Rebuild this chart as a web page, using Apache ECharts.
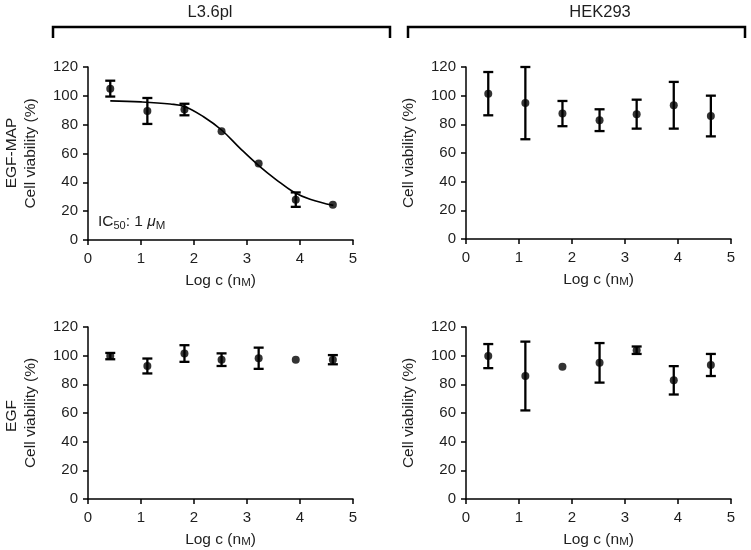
<!DOCTYPE html>
<html><head><meta charset="utf-8">
<script src="https://cdn.jsdelivr.net/npm/echarts@6/dist/echarts.min.js"></script>
<style>html,body{margin:0;padding:0;background:#fff}#c{width:751px;height:550px}</style>
</head><body><div id="c"></div>
<script>
// ---- data ----
var xVals = [0.42, 1.12, 1.82, 2.52, 3.22, 3.92, 4.62];
var xTicks = [0, 1, 2, 3, 4, 5];
var yTicks = [0, 20, 40, 60, 80, 100, 120];
// L3.6pl, EGF-MAP
var tlMean = [105, 89.5, 90.5, 75.5, 53, 28, 24.5];
var tlErr  = [5.5, 9, 4, 0, 0, 5, 0];
// fitted curve
var curveX = [0.42, 1.0, 1.55, 1.83, 2.18, 2.52, 2.87, 3.21, 3.56, 3.87, 4.19, 4.63];
var curveY = [96.5, 95.8, 94.3, 92.5, 85.5, 76.3, 63.6, 52, 41.6, 33.5, 28.3, 24];
// HEK293, EGF-MAP
var trMean = [101.4, 94.8, 87.5, 82.9, 87.1, 93.3, 85.8];
var trErr  = [15.1, 25.2, 8.8, 7.6, 10.1, 16.3, 14.2];
// L3.6pl, EGF
var blMean = [99.7, 92.8, 101.5, 97.2, 98.2, 97.2, 97.2];
var blErr  = [2.2, 5.2, 5.8, 4.4, 7.4, 0, 3.2];
// HEK293, EGF
var brMean = [99.7, 85.8, 92.3, 95, 103.8, 82.8, 93.5];
var brErr  = [8.4, 24, 0, 13.8, 2.6, 9.9, 7.7];

var FONT = '"Liberation Sans", Arial, Helvetica, sans-serif';
var TXT = '#1e1e1e';
var FS = 15;

var grids = [
  {left: 88, top: 67, width: 265, height: 173},
  {left: 466, top: 67, width: 265, height: 172},
  {left: 88, top: 327, width: 265, height: 172},
  {left: 466, top: 327, width: 265, height: 172}
];

function xAxis(i) {
  return {
    gridIndex: i, type: 'value', min: xTicks[0], max: xTicks[xTicks.length - 1], interval: 1,
    axisLine: {lineStyle: {color: '#000', width: 1.5}},
    axisTick: {show: true, length: 5, lineStyle: {color: '#000', width: 1.5}},
    axisLabel: {color: TXT, fontSize: FS, fontFamily: FONT, margin: 11},
    splitLine: {show: false},
    name: 'Log c (n{sc|M})', nameLocation: 'middle', nameGap: 32,
    nameTextStyle: {color: TXT, fontSize: 15.5, fontFamily: FONT, lineHeight: 17,
      rich: {sc: {fontSize: 11.5, fontFamily: FONT, color: TXT, verticalAlign: 'bottom', lineHeight: 16}}}
  };
}
function yAxis(i) {
  return {
    gridIndex: i, type: 'value', min: yTicks[0], max: yTicks[yTicks.length - 1], interval: 20,
    axisLine: {show: true, lineStyle: {color: '#000', width: 1.5}},
    axisTick: {show: true, length: 5, lineStyle: {color: '#000', width: 1.5}},
    axisLabel: {color: TXT, fontSize: FS, fontFamily: FONT, margin: 10},
    splitLine: {show: false},
    name: 'Cell viability (%)', nameLocation: 'middle', nameGap: 49,
    nameTextStyle: {color: TXT, fontSize: 15.5, fontFamily: FONT}
  };
}

function pairs(xs, ys) { return xs.map(function (x, k) { return [x, ys[k]]; }); }
function errData(means, errs) {
  var out = [];
  for (var k = 0; k < xVals.length; k++) {
    if (errs[k] > 0) out.push([xVals[k], means[k] - errs[k], means[k] + errs[k]]);
  }
  return out;
}
function errSeries(i, means, errs) {
  return {
    type: 'custom', xAxisIndex: i, yAxisIndex: i, data: errData(means, errs), z: 3,
    renderItem: function (params, api) {
      var lo = api.coord([api.value(0), api.value(1)]);
      var hi = api.coord([api.value(0), api.value(2)]);
      var w = 5;
      var st = {stroke: '#000', lineWidth: 2.3};
      return {type: 'group', children: [
        {type: 'line', shape: {x1: lo[0], y1: lo[1], x2: hi[0], y2: hi[1]}, style: st},
        {type: 'line', shape: {x1: lo[0] - w, y1: lo[1], x2: lo[0] + w, y2: lo[1]}, style: st},
        {type: 'line', shape: {x1: hi[0] - w, y1: hi[1], x2: hi[0] + w, y2: hi[1]}, style: st}
      ]};
    }
  };
}
function dotSeries(i, means) {
  return {type: 'scatter', xAxisIndex: i, yAxisIndex: i, data: pairs(xVals, means),
    symbol: 'circle', symbolSize: 8, itemStyle: {color: '#000'}, z: 4, silent: true};
}

var series = [
  {type: 'line', xAxisIndex: 0, yAxisIndex: 0, data: pairs(curveX, curveY), smooth: 0.4,
   showSymbol: false, lineStyle: {color: '#000', width: 1.6}, z: 2, silent: true},
  errSeries(0, tlMean, tlErr), dotSeries(0, tlMean),
  errSeries(1, trMean, trErr), dotSeries(1, trMean),
  errSeries(2, blMean, blErr), dotSeries(2, blMean),
  errSeries(3, brMean, brErr), dotSeries(3, brMean)
];

function bracket(x1, x2) {
  return {type: 'polyline', shape: {points: [[x1, 38], [x1, 27], [x2, 27], [x2, 38]]},
    style: {stroke: '#000', lineWidth: 2.5, fill: null}};
}
function label(text, x, y, rot, fs) {
  return {type: 'text', x: x, y: y, rotation: rot || 0,
    style: {text: text, fill: TXT, font: (fs || 15.5) + 'px ' + FONT, align: 'center', verticalAlign: 'middle'}};
}

var chart = echarts.init(document.getElementById('c'), null, {renderer: 'canvas'});
chart.setOption({
  animation: false,
  backgroundColor: '#fff',
  grid: grids,
  xAxis: [0, 1, 2, 3].map(xAxis),
  yAxis: [0, 1, 2, 3].map(yAxis),
  series: series,
  graphic: [
    bracket(53, 390), bracket(408, 745),
    label('L3.6pl', 210, 12, 0, 16.5), label('HEK293', 600, 12, 0, 16.5),
    label('EGF-MAP', 12, 153, Math.PI / 2, 15.5),
    label('EGF', 12, 416, Math.PI / 2, 15.5),
    {type: 'text', x: 98, y: 222,
     style: {text: '{a|IC}{sub|50}{a|: 1 }{i|\u03bc}{sc|M}', fill: TXT, verticalAlign: 'middle',
       rich: {
         a: {fontSize: 15.5, fontFamily: FONT, fill: TXT, lineHeight: 19},
         sub: {fontSize: 11, fontFamily: FONT, fill: TXT, verticalAlign: 'bottom', lineHeight: 19},
         i: {fontSize: 15.5, fontFamily: FONT, fontStyle: 'italic', fill: TXT, lineHeight: 19},
         sc: {fontSize: 11.5, fontFamily: FONT, fill: TXT, verticalAlign: 'bottom', lineHeight: 17}
       }}}
  ]
});
</script></body></html>
